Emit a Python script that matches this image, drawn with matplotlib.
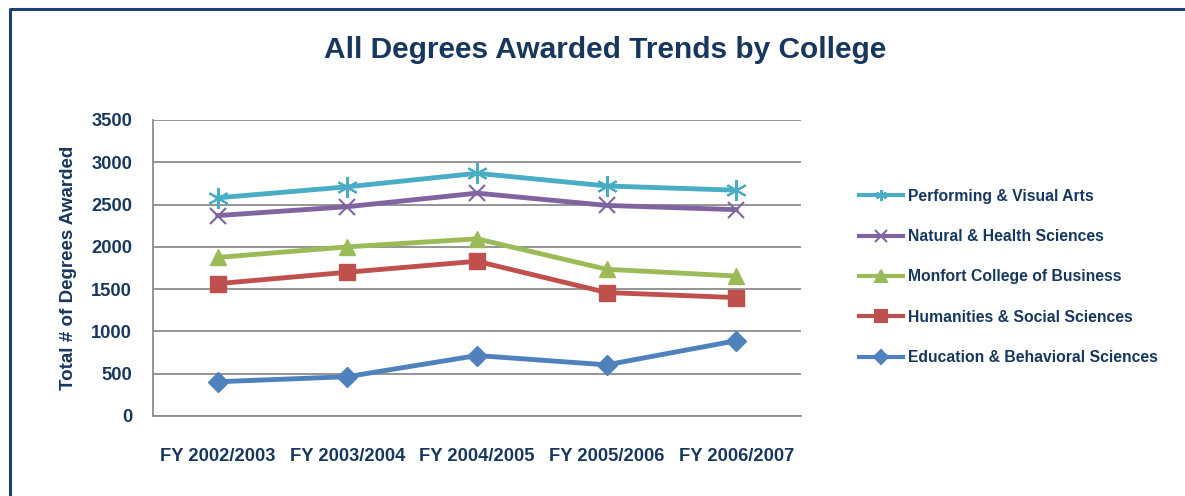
"""
All degrees awarded trends by college.
"""

import matplotlib.pyplot as plt
from matplotlib import font_manager
from matplotlib.lines import Line2D

# Data
years = ["FY 2002/2003", "FY 2003/2004", "FY 2004/2005", "FY 2005/2006", "FY 2006/2007"]
performing = [2580, 2710, 2870, 2720, 2670]
natural = [2370, 2475, 2635, 2490, 2440]
monfort = [1875, 2000, 2095, 1735, 1655]
humanities = [1565, 1700, 1830, 1460, 1400]
education = [405, 465, 715, 605, 890]

series_names = ["Performing & Visual Arts", "Natural & Health Sciences",
                "Monfort College of Business", "Humanities & Social Sciences",
                "Education & Behavioral Sciences"]
yticks = [0, 500, 1000, 1500, 2000, 2500, 3000, 3500]

# Styles
colors = ["#4BACC6", "#8064A2", "#9BBB59", "#C0504D", "#4F81BD"]
markers = ["*", "x", "^", "s", "D"]
navy = "#17375E"

names = {f.name for f in font_manager.fontManager.ttflist}
family = "Liberation Sans Narrow" if "Liberation Sans Narrow" in names else "Liberation Sans"
plt.rcParams["font.family"] = [family, "DejaVu Sans"]

fig = plt.figure(figsize=(11.85, 4.96), dpi=100)
ax = fig.add_axes([153 / 1185, 1 - 416 / 496, (801 - 153) / 1185, (416 - 120) / 496])

x = list(range(len(years)))
all_series = [performing, natural, monfort, humanities, education]
for vals, name, c, m in zip(all_series, series_names, colors, markers):
    if m == "*":
        ax.plot(x, vals, color=c, linewidth=3.5, marker=(6, 2, 0), markersize=15,
                markeredgewidth=1.5, label=name)
    elif m == "x":
        ax.plot(x, vals, color=c, linewidth=3.5, marker="x", markersize=12,
                markeredgewidth=1.5, label=name)
    elif m == "D":
        ax.plot(x, vals, color=c, linewidth=3.5, marker="D", markersize=10, label=name)
    else:
        ax.plot(x, vals, color=c, linewidth=3.5, marker=m, markersize=12, label=name)

ax.set_xlim(-0.5, len(years) - 0.5)
ax.set_ylim(0, 3500)
ax.set_yticks(yticks)
ax.set_xticks(x)
ax.set_xticklabels(years)
ax.grid(axis="y", color="#8C8C8C", linewidth=1.3)
ax.set_axisbelow(True)
ax.tick_params(length=0, labelsize=13.2, labelcolor=navy)
ax.tick_params(axis="y", pad=15)
ax.tick_params(axis="x", pad=23)
for lbl in ax.get_xticklabels() + ax.get_yticklabels():
    lbl.set_fontweight("bold")
for side in ["top", "right"]:
    ax.spines[side].set_visible(False)
for side in ["left", "bottom"]:
    ax.spines[side].set_color("#8C8C8C")
    ax.spines[side].set_linewidth(1.3)

ax.set_ylabel("Total # of Degrees Awarded", fontsize=13.5, fontweight="bold", color=navy,
              labelpad=10)

fig.text(605 / 1185, 1 - 50 / 496, "All Degrees Awarded Trends by College", ha="center",
         va="center", fontsize=21.5, fontweight="bold", color=navy)

# Legend
handles = []
for name, c, m in zip(series_names, colors, markers):
    mk = (6, 2, 0) if m == "*" else m
    ms = 7 if m in ("D",) else 8
    handles.append(Line2D([0], [0], color=c, linewidth=3, marker=mk, markersize=ms,
                          markeredgewidth=1.5))
leg = fig.legend(handles, series_names, loc="center left",
                 bbox_to_anchor=(845 / 1185, 1 - 277 / 496), frameon=False,
                 fontsize=11.3, labelspacing=1.62, handlelength=2.8, handletextpad=0.3)
for t in leg.get_texts():
    t.set_color(navy)
    t.set_fontweight("bold")

# Outer border (top and left)
fig.add_artist(Line2D([10 / 1185, 10 / 1185, 1.0], [0.0, 1 - 9 / 496, 1 - 9 / 496],
                      transform=fig.transFigure, color="#1F3F77", linewidth=2.2))

fig.savefig("out.png", dpi=100)
